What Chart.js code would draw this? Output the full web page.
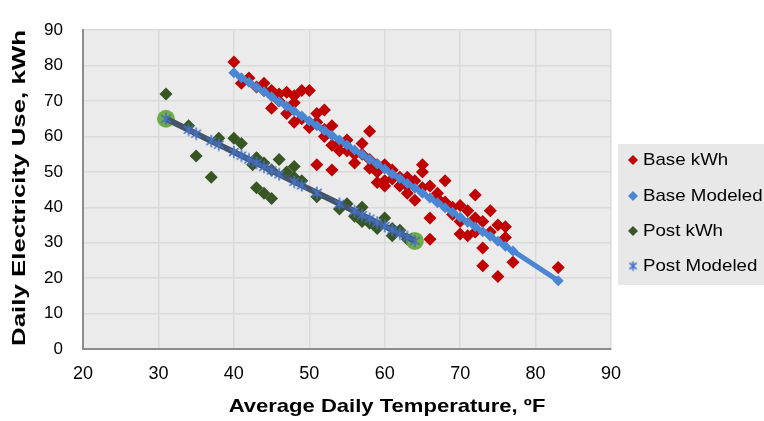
<!DOCTYPE html>
<html><head><meta charset="utf-8">
<script src="https://cdn.jsdelivr.net/npm/chart.js@4/dist/chart.umd.min.js"></script>
<style>html,body{margin:0;padding:0;background:#fff;}#wrap{width:764px;height:421px;position:relative;}</style>
</head><body><div id="wrap"><canvas id="c" width="764" height="421"></canvas></div>
<script>
// ---- data ----
const baseTemp = [40,41,42,43,44,44,45,45,46,46,47,47,48,48,48,49,49,50,50,51,51,51,52,52,52,53,53,53,54,54,55,55,56,56,57,57,58,58,58,59,59,59,60,60,60,61,61,62,62,63,63,63,64,64,65,65,65,66,66,66,67,67,68,68,69,69,70,70,70,71,71,72,72,72,73,73,73,74,74,75,75,76,76,77,83];
const baseKwh  = [81,75,76.5,74,75,73,73,68,72,70,72.5,66.5,71.5,69.5,64,73,65,73,62.5,66.5,64,52,67.5,60,62,63,57.5,50.5,56,58,56,59,55,52.5,58,55,61.5,51,53.5,50,47,52,52,47.5,46,50.5,48,46,48.5,48.5,46,44,47.5,42,52,50,45.5,46,37,31,42.5,44,47.5,41.5,40,38,40.5,36,32.5,39,32,43.5,37,33,36,28.5,23.5,39,33,35,20.5,34.5,31.5,24.5,23];
const baseModelTemp = [40,41,42,43,44,45,46,47,48,49,50,51,52,53,54,55,56,57,58,59,60,61,62,63,64,65,66,67,68,69,70,71,72,73,74,75,76,77,83];
const baseModeled   = [78,76.6,75.3,73.9,72.6,71.2,69.8,68.5,67.1,65.8,64.4,63.0,61.7,60.3,59.0,57.6,56.2,54.9,53.5,52.2,50.8,49.4,48.1,46.7,45.4,44.0,42.6,41.3,39.9,38.6,37.2,35.8,34.5,33.1,31.8,30.4,29.0,27.7,19.3];
const postTemp = [31,34,35,37,38,40,41,42.5,43,43,44,44,45,45,46,47,48,48,49,51,54,55,56,57,57,58,59,60,61,61,62,63,64];
const postKwh  = [72,63,54.5,48.5,59.5,59.5,58,52,54,45.5,44,52.5,42.5,50.5,53.5,50,51.5,48.5,47.5,43,39.5,41,37.5,40,36,35.5,34,37,34,32,33.5,31,30.5];
const postModelTemp = [31,34,35,37,38,40,41,42,43,44,45,46,48,49,51,54,56,57,58,59,60,61,62,63,64];
const postModeled   = [65,61.9,60.8,58.7,57.7,55.6,54.6,53.5,52.5,51.4,50.4,49.3,47.2,46.2,44.1,41.0,38.9,37.8,36.8,35.7,34.7,33.6,32.6,31.6,30.5];
const postEndTemp = [31,64];
const postEndKwh  = [65,30.5];
const xTickValues = [20,30,40,50,60,70,80,90];
const yTickValues = [0,10,20,30,40,50,60,70,80,90];
const xTitle = 'Average Daily Temperature, ºF';
const yTitle = 'Daily Electricity Use, kWh';

function pts(xs, ys){ return xs.map((x,i)=>({x:x, y:ys[i]})); }
const FONT = '"Liberation Sans", Arial, sans-serif';

function asterisk(size, color){
  const c=document.createElement('canvas'); c.width=c.height=size;
  const g=c.getContext('2d'); g.strokeStyle=color; g.lineWidth=1.6;
  const cx=size/2, r=size/2-0.8;
  g.beginPath();
  for (const a of [90,40,140]) {
    const rad=a*Math.PI/180;
    g.moveTo(cx-r*Math.cos(rad), cx-r*Math.sin(rad));
    g.lineTo(cx+r*Math.cos(rad), cx+r*Math.sin(rad));
  }
  g.stroke(); return c;
}
const star = asterisk(14,'#4472C4');
const starSmall = asterisk(11,'#4472C4');

const bgPlugin = {
  id:'bg',
  beforeDraw(chart){
    const {ctx, chartArea:a} = chart;
    ctx.save(); ctx.fillStyle='#fff'; ctx.fillRect(0,0,chart.width,chart.height);
    ctx.fillStyle='#EBEBEB'; ctx.fillRect(a.left,a.top,a.right-a.left,a.bottom-a.top); ctx.restore();
  }
};
const titlePlugin = {
  id:'axisTitles',
  afterDraw(chart){
    const ctx=chart.ctx; ctx.save();
    ctx.fillStyle='#000'; ctx.font='bold 19px '+FONT;
    ctx.textAlign='center'; ctx.textBaseline='middle';
    ctx.save(); ctx.translate(387,407); ctx.scale(1.16,1); ctx.fillText(xTitle,0,0); ctx.restore();
    ctx.save(); ctx.translate(20,188); ctx.rotate(-Math.PI/2); ctx.scale(1.36,1); ctx.fillText(yTitle,0,0); ctx.restore();
    ctx.restore();
  }
};
const legendPlugin = {
  id:'customLegend',
  afterDraw(chart){
    const ctx=chart.ctx; ctx.save();
    ctx.fillStyle='#E8E8E8'; ctx.fillRect(618,144,146,141);
    const ys=[160,196,231,266];
    ctx.font='17px '+FONT;
    ctx.textBaseline='middle'; ctx.textAlign='left';
    [0,1,2,3].forEach((di,i)=>{
      const ds=chart.data.datasets[di];
      ctx.fillStyle=ds.pointBackgroundColor; ctx.strokeStyle=ds.pointBorderColor;
      const ps = di===3 ? starSmall : ds.pointStyle;
      Chart.helpers.drawPoint(ctx,{pointStyle:ps, radius:ds.legendRadius, borderWidth:0, rotation:0},633,ys[i]);
      ctx.fillStyle='#000';
      ctx.save(); ctx.translate(643,ys[i]); ctx.scale(1.1,1); ctx.fillText(ds.label,0,0); ctx.restore();
    });
    ctx.restore();
  }
};

new Chart(document.getElementById('c'), {
  type:'scatter',
  data:{ datasets:[
    {label:'Base kWh', data:pts(baseTemp,baseKwh), pointStyle:'rectRot', pointRadius:6.5, pointHoverRadius:6.5, legendRadius:5,
     pointBackgroundColor:'#C00000', pointBorderColor:'#C00000', pointBorderWidth:0, showLine:false, order:4},
    {label:'Base Modeled', data:pts(baseModelTemp,baseModeled), pointStyle:'rectRot', pointRadius:5.5, pointHoverRadius:5.5, legendRadius:5,
     pointBackgroundColor:'#4A86D4', pointBorderColor:'#4A86D4', pointBorderWidth:0, showLine:true, borderColor:'#4A86D4', borderWidth:5, order:3},
    {label:'Post kWh', data:pts(postTemp,postKwh), pointStyle:'rectRot', pointRadius:6.5, pointHoverRadius:6.5, legendRadius:5,
     pointBackgroundColor:'#375623', pointBorderColor:'#375623', pointBorderWidth:0, showLine:false, order:2},
    {label:'Post Modeled', data:pts(postModelTemp,postModeled), pointStyle:star, pointRadius:7, legendRadius:6,
     pointBackgroundColor:'#4472C4', pointBorderColor:'#4472C4', showLine:true, borderColor:'#44546A', borderWidth:6, order:0},
    {label:'', data:pts(postEndTemp,postEndKwh), pointStyle:'circle', pointRadius:9, pointHoverRadius:9,
     pointBackgroundColor:'#70AD47', pointBorderColor:'#70AD47', pointBorderWidth:0, showLine:false, order:1}
  ]},
  options:{
    responsive:false, devicePixelRatio:1, animation:false,
    layout:{padding:{top:16,right:153,left:0,bottom:0}},
    plugins:{legend:{display:false}, tooltip:{enabled:false}},
    scales:{
      x:{type:'linear', min:20, max:90,
        afterFit(s){ s.height=72; },
        afterBuildTicks(s){ s.ticks = xTickValues.map(v=>({value:v})); },
        ticks:{stepSize:10, padding:14, color:'#000', font:{size:18, family:FONT}},
        grid:{color:'#DADADA', lineWidth:1.5, drawTicks:false},
        border:{color:'#8C8C8C', width:2},
        title:{display:false}
      },
      y:{min:0, max:90,
        afterFit(s){ s.width=83; },
        afterBuildTicks(s){ s.ticks = yTickValues.map(v=>({value:v})); },
        ticks:{stepSize:10, padding:20, color:'#000', font:{size:17, family:FONT}},
        grid:{color:'#DADADA', lineWidth:1.5, drawTicks:false},
        border:{color:'#8C8C8C', width:2},
        title:{display:false}
      }
    }
  },
  plugins:[bgPlugin, titlePlugin, legendPlugin]
});
</script></body></html>
